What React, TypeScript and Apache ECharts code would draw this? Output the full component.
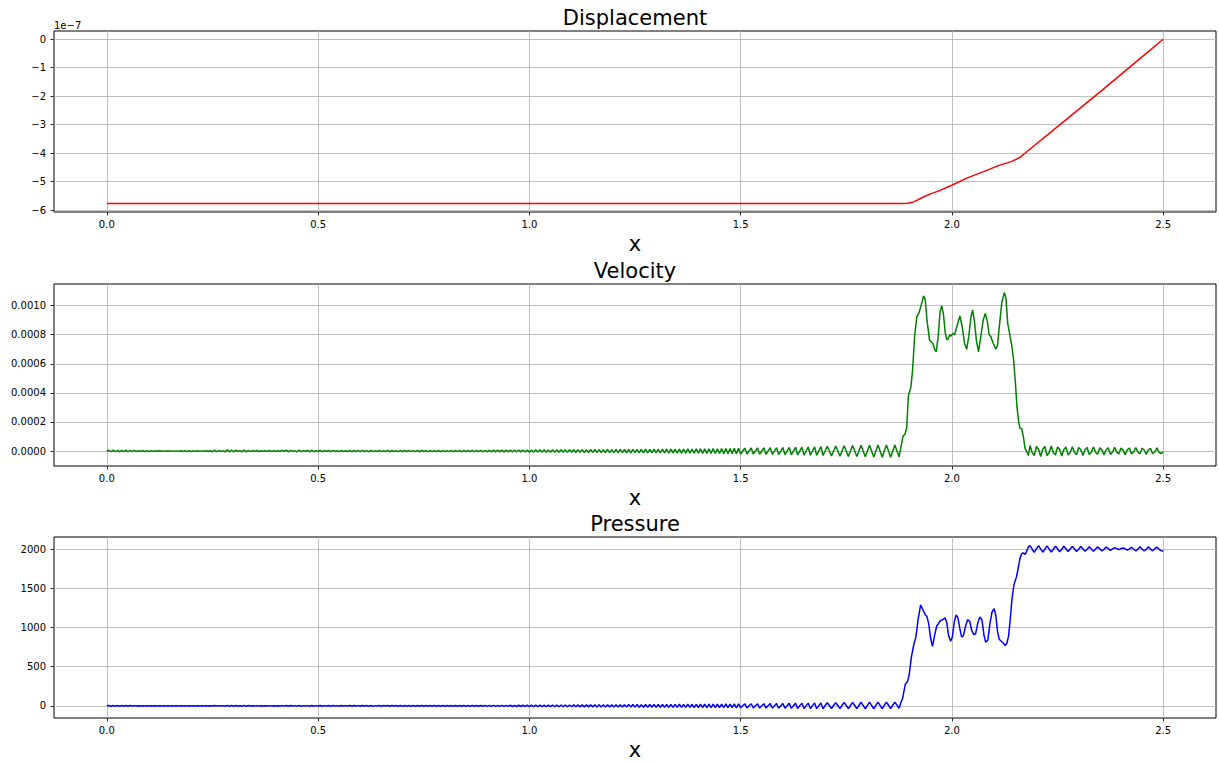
import React, { useEffect, useRef } from 'react';
import * as echarts from 'echarts';

// ---------- tick labels ----------
const xTicks = [0, 0.5, 1.0, 1.5, 2.0, 2.5];
const dispTicks = [-6, -5, -4, -3, -2, -1, 0]; // units of 1e-7
const velTicks = [0, 200, 400, 600, 800, 1000]; // units of 1e-6
const presTicks = [0, 500, 1000, 1500, 2000];

// ---------- displacement (units 1e-7) ----------
const displacement: [number, number][] = [
  [0, -5.77], [1.88, -5.77], [1.895, -5.765], [1.905, -5.74], [1.917, -5.66], [1.93, -5.56],
  [1.945, -5.46], [1.972, -5.31], [2.001, -5.12], [2.035, -4.88], [2.075, -4.65], [2.11, -4.44],
  [2.142, -4.29], [2.161, -4.15], [2.175, -3.98], [2.25, -3.07], [2.35, -1.86], [2.45, -0.62], [2.5, 0],
];

// ---------- velocity (units 1e-6) ----------
const meshStep = 0.005;
const velLeft = [
  0, 5, -5, 6, -5, 5, -6, 5, -5, 6, -5, 5, -4, 4, -3, 2, -2, 3, -3, 3,
  -3, 3, -3, 3, -2, 2, -2, 1, -1, 2, -2, 1, -1, 1, -1, 2, -3, 3, -3, 2,
  -3, 3, -2, 2, -1, 1, -1, 2, -2, 2, -5, 6, -5, 5, -3, 3, -6, 8, -7, 7,
  -7, 6, -3, 3, -6, 7, -6, 5, -3, 2, -2, 4, -3, 2, -1, 2, -2, 4, -4, 3,
  -2, 2, -2, 4, -3, 6, -6, 5, -3, 3, -6, 7, -5, 3, -2, 4, -6, 6, -5, 3,
  -3, 4, -4, 3, -2, 4, -5, 5, -3, 3, -4, 4, -3, 2, -3, 5, -5, 4, -3, 3,
  -4, 4, -3, 3, -5, 5, -4, 3, -3, 4, -4, 3, -3, 5, -5, 4, -3, 3, -4, 5,
  -5, 4, -3, 4, -4, 3, -4, 5, -5, 4, -3, 3, -5, 5, -4, 3, -4, 4, -5, 5,
  -4, 3, -4, 5, -5, 4, -4, 4, -5, 5, -4, 4, -4, 5, -5, 5, -4, 4, -5, 5,
  -6, 5, -6, 6, -6, 7, -6, 6, -7, 6, -6, 7, -7, 6, -7, 7, -6, 7, -7, 7,
  -8, 7, -8, 8, -7, 8, -8, 8, -8, 7, -8, 8, -9, 8, -8, 9, -8, 8, -9, 9,
  -9, 9, -10, 9, -9, 10, -10, 9, -10, 10, -9, 10, -10, 10, -11, 10, -10, 11, -11, 10,
  -11, 11, -11, 12, -11, 11, -12, 11, -12, 12, -11, 12, -12, 12, -12, 13, -12, 12, -13, 13,
  -13, 12, -13, 13, -13, 13, -14, 13, -13, 14, -14, 13, -14, 14, -14, 15, -14, 14, -15, 15,
  -15, 15, -16, 15, -16, 16, -16, 17, -17, 16, -17, 17, -18, 17, -18, 18, -18, 19, -19, 19,
  -20, 0, 20, -20, 0, 21, -21, 0, 21, -22, 0, 22, -22, 0, 23, -23, 0, 23, -24, 0,
  24, -25, 0, 25, -26, 0, 26, -27, 0, 27, -28, 0, 28, -29, 0, 29, -30, 0, 30, -31,
  0, 32, 0, -33, 0, 34, 0, -35, 0, 36, 0, -37, 0, 38, 0, -38, 0, 39, 0, -40,
  0, 40, 0, -41, 0, 42, 0, -42, 0, 42, 0, -42, 0, 42, 0, -40,
];
const velShock: [number, number][] = [
  [1.879, 20], [1.884, 100], [1.889, 117], [1.893, 160], [1.897, 380], [1.903, 440], [1.907, 560],
  [1.912, 800], [1.917, 924], [1.922, 950], [1.927, 1000], [1.933, 1067], [1.937, 1040], [1.941, 900],
  [1.947, 764], [1.951, 750], [1.955, 740], [1.959, 700], [1.963, 683], [1.968, 800], [1.972, 960],
  [1.976, 998], [1.98, 940], [1.984, 820], [1.988, 764], [1.991, 770], [1.995, 800], [1.998, 790],
  [2.002, 810], [2.006, 800], [2.01, 840], [2.015, 890], [2.019, 929], [2.024, 860], [2.03, 740],
  [2.035, 700], [2.04, 790], [2.045, 920], [2.049, 970], [2.053, 900], [2.058, 760], [2.063, 683],
  [2.068, 780], [2.074, 900], [2.079, 947], [2.084, 890], [2.088, 800], [2.092, 787], [2.098, 740],
  [2.104, 700], [2.108, 730], [2.113, 880], [2.118, 1020], [2.124, 1090], [2.128, 1050], [2.132, 880],
  [2.137, 800], [2.142, 720], [2.146, 626], [2.15, 480], [2.154, 305], [2.158, 200], [2.161, 156],
  [2.165, 155], [2.169, 100], [2.173, 20], [2.177, -5], [2.181, -30],
];
const tailStart = 2.185;
const velRight = [
  38, -12, -31, 31, 12, -38, 12, 31, -31, -12,
  34, -10, -28, 28, 10, -34, 11, 27, -28, -10,
  30, -9, -25, 25, 9, -30, 9, 24, -24, -9,
  28, -9, -22, 23, 8, -27, 9, 22, -23, -8,
  26, -8, -20, 20, 8, -25, 8, 21, -20, -8,
  24, -7, -19, 19, 7, -23, 8, 19, -19, -7,
  22, -7, -18, -5,
];

// ---------- pressure ----------
const presLeft = [
  0, 4, -4, 5, -4, 4, -5, 4, -4, 5, -4, 4, -3, 3, -2, 2, -2, 2, -2, 2,
  -2, 2, -2, 2, -1, 1, -1, 1, -1, 1, -1, 1, -1, 1, -1, 2, -2, 2, -2, 2,
  -2, 2, -1, 1, -1, 1, -1, 1, -2, 2, -3, 4, -3, 3, -2, 3, -5, 6, -5, 5,
  -5, 4, -2, 2, -5, 6, -5, 4, -2, 2, -2, 3, -2, 2, -1, 2, -2, 3, -3, 2,
  -2, 2, -2, 3, -3, 5, -5, 4, -3, 3, -5, 6, -4, 3, -2, 3, -5, 5, -4, 3,
  -3, 4, -4, 3, -3, 4, -4, 4, -3, 3, -4, 4, -3, 3, -3, 4, -4, 4, -3, 3,
  -4, 4, -3, 4, -4, 4, -4, 3, -3, 4, -4, 4, -3, 4, -4, 4, -3, 4, -4, 4,
  -4, 4, -4, 4, -4, 4, -4, 5, -5, 4, -4, 4, -5, 5, -4, 4, -4, 5, -5, 5,
  -5, 5, -4, 5, -5, 5, -5, 5, -5, 5, -5, 5, -5, 5, -5, 5, -5, 5, -5, 6,
  -6, 6, -6, 7, -7, 6, -7, 7, -7, 7, -7, 8, -8, 7, -8, 8, -8, 8, -8, 9,
  -9, 9, -9, 9, -10, 9, -10, 10, -10, 10, -10, 11, -11, 10, -11, 11, -11, 11, -12, 11,
  -12, 12, -12, 12, -13, 12, -13, 13, -13, 13, -13, 14, -14, 13, -14, 14, -14, 14, -15, 14,
  -15, 15, -15, 15, -16, 15, -16, 16, -16, 16, -16, 17, -17, 16, -17, 17, -17, 17, -18, 17,
  -18, 18, -18, 18, -19, 18, -19, 19, -19, 19, -19, 20, -20, 19, -20, 20, -20, 20, -21, 20,
  -21, 21, -21, 22, -22, 21, -22, 22, -23, 22, -23, 23, -23, 24, -24, 23, -24, 24, -25, 25,
  -25, 2, 26, -26, 2, 27, -27, 2, 27, -28, 2, 28, -28, 2, 29, -29, 2, 30, -30, 2,
  31, -31, 3, 32, -32, 3, 33, -33, 3, 34, -34, 3, 35, -35, 3, 36, -36, 3, 37, -37,
  4, 40, 4, -34, 4, 42, 4, -35, 5, 44, 5, -36, 5, 45, 5, -36, 5, 46, 6, -37,
  6, 47, 6, -37, 7, 48, 7, -36, 8, 48, 8, -35, 8, 46, 9, -30,
];
const presShock: [number, number][] = [
  [1.879, 40], [1.883, 90], [1.887, 200], [1.89, 280], [1.895, 310], [1.899, 400], [1.904, 620],
  [1.909, 761], [1.915, 888], [1.92, 1100], [1.926, 1290], [1.931, 1230], [1.937, 1164], [1.941, 1140],
  [1.945, 1050], [1.95, 850], [1.954, 761], [1.959, 900], [1.964, 1020], [1.968, 1049], [1.973, 1090],
  [1.978, 1100], [1.984, 1122], [1.988, 1060], [1.992, 900], [1.997, 825], [2.001, 880], [2.006, 1080],
  [2.01, 1160], [2.014, 1130], [2.019, 980], [2.023, 880], [2.027, 890], [2.032, 1010], [2.037, 1100],
  [2.042, 1080], [2.047, 960], [2.052, 910], [2.056, 920], [2.061, 1050], [2.066, 1134], [2.071, 1100],
  [2.076, 900], [2.08, 812], [2.085, 840], [2.09, 1050], [2.095, 1200], [2.1, 1240], [2.104, 1150],
  [2.108, 950], [2.112, 850], [2.117, 825], [2.122, 800], [2.126, 770], [2.13, 800], [2.134, 888],
  [2.138, 1100], [2.142, 1354], [2.147, 1550], [2.153, 1650], [2.157, 1760], [2.161, 1883], [2.165, 1940],
  [2.169, 1954], [2.174, 1935], [2.178, 1990], [2.181, 2030],
];
const presRight = [
  2045, 2000, 1960, 2005, 2045, 2005, 1962, 2000, 2042, 2005, 1965, 2000, 2040, 2005, 1968, 2000,
  2038, 2005, 1970, 2002, 2036, 2005, 1972, 2000, 2035, 2005, 1975, 2000, 2032, 2003, 1975, 2002,
  2030, 2005, 1978, 2000, 2028, 2008, 1985, 2005, 2020, 2008, 1995, 2008, 2015, 2005, 1990, 2002,
  2025, 2003, 1980, 2000, 2030, 2002, 1978, 2000, 2030, 2000, 1980, 2005, 2028, 2000, 1982, 1975,
];

function buildSeries(left: number[], shock: [number, number][], right: number[]): [number, number][] {
  return [
    ...left.map((v, i) => [+(i * meshStep).toFixed(3), v] as [number, number]),
    ...shock,
    ...right.map((v, i) => [+(tailStart + i * meshStep).toFixed(3), v] as [number, number]),
  ];
}

const FONT = 'DejaVu Sans';
const GRIDS = [
  { top: 31, height: 181 },
  { top: 284, height: 182 },
  { top: 537, height: 181 },
];
const LEFT = 54;
const WIDTH = 1162;
const CX = LEFT + WIDTH / 2;

function fmtMinus(n: number, digits: number) {
  const s = Math.abs(n).toFixed(digits);
  return n < 0 ? '\u2212' + s : s;
}

export default function App() {
  const ref = useRef<HTMLDivElement>(null);

  useEffect(() => {
    if (!ref.current) return;
    const chart = echarts.init(ref.current, undefined, { renderer: 'svg' });

    const velData = buildSeries(velLeft, velShock, velRight);
    const presData = buildSeries(presLeft, presShock, presRight);

    const xAxisFor = (gridIndex: number) => ({
      type: 'value',
      gridIndex,
      min: -0.125,
      max: 2.625,
      axisLine: { show: false, onZero: false },
      axisTick: { show: true, length: 3.5, customValues: xTicks, lineStyle: { color: '#000', width: 0.8 } },
      axisLabel: {
        customValues: xTicks,
        formatter: (v: number) => v.toFixed(1),
        fontSize: 10,
        fontFamily: FONT,
        color: '#000',
        margin: 7,
      },
      splitLine: { show: true, lineStyle: { color: '#b0b0b0', width: 0.8 } },
    });

    const yAxisFor = (gridIndex: number, min: number, max: number, ticks: number[], fmt: (v: number) => string) => ({
      type: 'value',
      gridIndex,
      min,
      max,
      axisLine: { show: false, onZero: false },
      axisTick: { show: true, length: 3.5, customValues: ticks, lineStyle: { color: '#000', width: 0.8 } },
      axisLabel: {
        customValues: ticks,
        formatter: fmt,
        fontSize: 10,
        fontFamily: FONT,
        color: '#000',
        margin: 8,
      },
      splitLine: { show: true, lineStyle: { color: '#b0b0b0', width: 0.8 } },
    });

    const titles = [
      { text: 'Displacement', y: 18 },
      { text: 'Velocity', y: 271 },
      { text: 'Pressure', y: 524 },
    ];
    const xlabels = [243.5, 497.5, 749.5];

    chart.setOption({
      animation: false,
      backgroundColor: '#ffffff',
      grid: GRIDS.map((g) => ({
        left: LEFT,
        top: g.top,
        width: WIDTH,
        height: g.height,
        show: true,
        borderColor: '#000',
        borderWidth: 1,
        backgroundColor: 'transparent',
        containLabel: false,
      })),
      xAxis: [xAxisFor(0), xAxisFor(1), xAxisFor(2)],
      yAxis: [
        yAxisFor(0, -6.07, 0.29, dispTicks, (v) => (v === 0 ? '0' : fmtMinus(v, 0))),
        yAxisFor(1, -103, 1149, velTicks, (v) => (v / 1e6).toFixed(4)),
        yAxisFor(2, -155, 2156, presTicks, (v) => String(v)),
      ],
      series: [
        {
          type: 'line', xAxisIndex: 0, yAxisIndex: 0, data: displacement, showSymbol: false,
          lineStyle: { color: '#ff0000', width: 1.5 }, itemStyle: { color: '#ff0000' },
        },
        {
          type: 'line', xAxisIndex: 1, yAxisIndex: 1, data: velData, showSymbol: false,
          lineStyle: { color: '#008000', width: 1.5 }, itemStyle: { color: '#008000' },
        },
        {
          type: 'line', xAxisIndex: 2, yAxisIndex: 2, data: presData, showSymbol: false,
          lineStyle: { color: '#0000ff', width: 1.5 }, itemStyle: { color: '#0000ff' },
        },
      ],
      graphic: [
        ...titles.map((t) => ({
          type: 'text',
          x: CX,
          y: t.y,
          style: { text: t.text, fontSize: 21, fontFamily: FONT, fill: '#000', textAlign: 'center', textVerticalAlign: 'middle' },
        })),
        ...xlabels.map((y) => ({
          type: 'text',
          x: CX,
          y,
          style: { text: 'x', fontSize: 21, fontFamily: FONT, fill: '#000', textAlign: 'center', textVerticalAlign: 'middle' },
        })),
        {
          type: 'text',
          x: LEFT,
          y: 25,
          style: { text: '1e\u22127', fontSize: 10, fontFamily: FONT, fill: '#000', textAlign: 'left', textVerticalAlign: 'middle' },
        },
      ],
    });

    return () => chart.dispose();
  }, []);

  return (
    <div
      ref={ref}
      style={{ position: 'fixed', left: 0, top: 0, width: 1219, height: 763, background: '#fff' }}
    />
  );
}
